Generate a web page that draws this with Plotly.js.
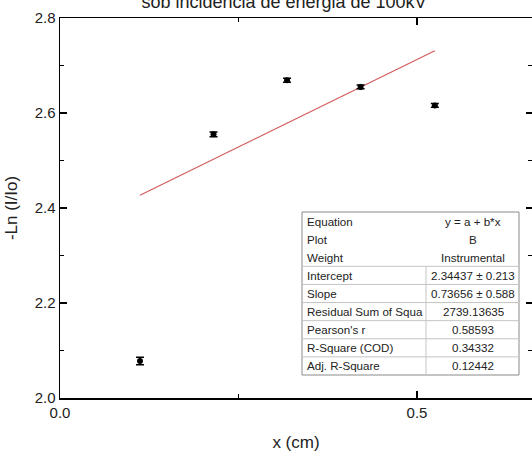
<!DOCTYPE html>
<html>
<head>
<meta charset="utf-8">
<script src="https://cdn.plot.ly/plotly-3.0.1.min.js"></script>
<style>
  html, body { margin: 0; padding: 0; background: #fff; }
  #chart { width: 532px; height: 453px; }
</style>
</head>
<body>
<div id="chart"></div>
<script>
// Measured points with instrumental uncertainties
const xValues = [0.112, 0.215, 0.318, 0.421, 0.525];
const yValues = [2.078, 2.555, 2.669, 2.655, 2.616];
const yErrors = [0.008, 0.005, 0.004, 0.004, 0.004];

// Linear fit y = a + b*x
const fitIntercept = 2.34437;
const fitSlope = 0.73656;

// Fit report table
const statNames = ["Equation", "Plot", "Weight", "Intercept", "Slope",
  "Residual Sum of Squa", "Pearson's r", "R-Square (COD)", "Adj. R-Square"];
const statValues = ["y = a + b*x", "B", "Instrumental", "2.34437 \u00b1 0.213",
  "0.73656 \u00b1 0.588", "2739.13635", "0.58593", "0.34332", "0.12442"];

const xTicks = [0.0, 0.5];
const yTicks = [2.0, 2.2, 2.4, 2.6, 2.8];

const W = 532, H = 453;
const M = { l: 60, r: 0, t: 18, b: 55 };
const plotW = W - M.l - M.r, plotH = H - M.t - M.b;
// x axis: 0.5 units span 357 px
const xMax = plotW / 714;

// pixel -> paper helpers for the report box
const px = v => (v - M.l) / plotW;
const py = v => (H - M.b - v) / plotH;

const fitX = [Math.min(...xValues), Math.max(...xValues)];
const fitY = fitX.map(x => fitIntercept + fitSlope * x);

const FONT = "Arial, Liberation Sans, sans-serif";

const traces = [
  {
    x: fitX, y: fitY, mode: "lines", type: "scatter",
    line: { color: "#d25c5c", width: 1.2 }, hoverinfo: "skip"
  },
  {
    x: xValues, y: yValues, mode: "markers", type: "scatter",
    marker: { color: "#000", size: 6 },
    error_y: { type: "data", array: yErrors, visible: true, color: "#000", thickness: 1.5, width: 4 }
  },
  // right-hand ticks (no spine)
  { x: [], y: [], yaxis: "y2", type: "scatter", showlegend: false }
];

// Report box geometry (pixels)
const box = { left: 302, right: 519, top: 212, bottom: 375 };
const colDiv = 426;
const rowH = (box.bottom - box.top) / statNames.length;

const shapes = [
  { type: "rect", xref: "paper", yref: "paper",
    x0: px(box.left), x1: px(box.right), y0: py(box.bottom), y1: py(box.top),
    line: { color: "#8a8a8a", width: 1 }, fillcolor: "#fff", layer: "above" }
];
for (let i = 3; i < statNames.length; i++) {
  const yLine = box.top + rowH * i;
  shapes.push({ type: "line", xref: "paper", yref: "paper",
    x0: px(box.left), x1: px(box.right), y0: py(yLine), y1: py(yLine),
    line: { color: "#c4c4c4", width: 1 }, layer: "above" });
}
shapes.push({ type: "line", xref: "paper", yref: "paper",
  x0: px(colDiv), x1: px(colDiv), y0: py(box.bottom), y1: py(box.top + rowH * 3),
  line: { color: "#c4c4c4", width: 1 }, layer: "above" });

const annotations = [];
statNames.forEach((name, i) => {
  const yc = box.top + rowH * (i + 0.5);
  annotations.push({ xref: "paper", yref: "paper", x: px(305), y: py(yc),
    xanchor: "left", yanchor: "middle", text: name, showarrow: false,
    font: { family: FONT, size: 11.6, color: "#222" } });
  annotations.push({ xref: "paper", yref: "paper", x: px(473), y: py(yc),
    xanchor: "center", yanchor: "middle", text: statValues[i], showarrow: false,
    font: { family: FONT, size: 11.6, color: "#222" } });
});

const axisFont = { family: FONT, size: 15, color: "#222" };

const layout = {
  width: W, height: H,
  margin: M,
  paper_bgcolor: "#fff", plot_bgcolor: "#fff",
  showlegend: false,
  title: {
    text: "sob incidência de energia de 100kV",
    x: 284 / W, xanchor: "center", y: 1 - 1.5 / H, yanchor: "middle", yref: "container",
    font: { family: FONT, size: 18, color: "#222" }
  },
  xaxis: {
    range: [0, xMax], tickvals: xTicks, tickformat: ".1f",
    ticks: "inside", ticklen: 7, tickwidth: 1.3, tickcolor: "#000",
    minor: { dtick: 0.25, ticks: "inside", ticklen: 4, tickwidth: 1.3, tickcolor: "#000", showgrid: false },
    showline: true, linecolor: "#000", linewidth: 1.5, mirror: "ticks",
    showgrid: false, zeroline: false, tickfont: axisFont,
    title: { text: "x (cm)", font: { family: FONT, size: 17, color: "#222" }, standoff: 16 }
  },
  yaxis: {
    range: [2.0, 2.8], tickvals: yTicks, tickformat: ".1f",
    ticks: "inside", ticklen: 7, tickwidth: 1.3, tickcolor: "#000",
    minor: { dtick: 0.1, ticks: "inside", ticklen: 4, tickwidth: 1.3, tickcolor: "#000", showgrid: false },
    showline: true, linecolor: "#000", linewidth: 1.5,
    showgrid: false, zeroline: false, tickfont: axisFont,
    title: { text: "-Ln (I/Io)", font: { family: FONT, size: 17, color: "#222" }, standoff: 12 }
  },
  yaxis2: {
    overlaying: "y", side: "right", range: [2.0, 2.8], tickvals: yTicks,
    ticks: "inside", ticklen: 6, tickwidth: 1.3, tickcolor: "#000",
    minor: { dtick: 0.1, ticks: "inside", ticklen: 4, tickwidth: 1.3, tickcolor: "#000", showgrid: false },
    showticklabels: false, showline: false, showgrid: false, zeroline: false
  },
  shapes: shapes,
  annotations: annotations
};

Plotly.newPlot("chart", traces, layout, { staticPlot: true, displayModeBar: false });
</script>
</body>
</html>
